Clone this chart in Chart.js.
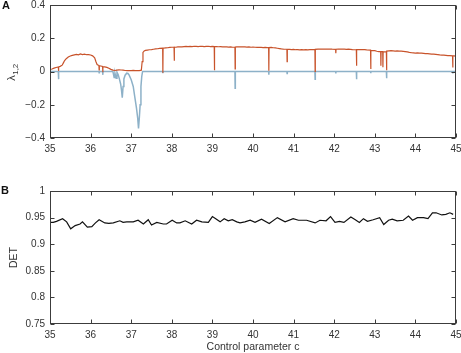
<!DOCTYPE html>
<html>
<head>
<meta charset="utf-8">
<script src="https://cdn.jsdelivr.net/npm/chart.js@4.4.1/dist/chart.umd.min.js"></script>
<style>
  html, body { margin: 0; padding: 0; background: #fff; }
  #wrap { position: relative; width: 461px; height: 353px; }
  canvas { position: absolute; left: 0; }
  #chartA { top: 0; }
  #chartB { top: 170px; }
</style>
</head>
<body>
<div id="wrap">
  <canvas id="chartA" width="461" height="170"></canvas>
  <canvas id="chartB" width="461" height="183"></canvas>
</div>
<script>
// control parameter ticks
const xTicks = [35, 36, 37, 38, 39, 40, 41, 42, 43, 44, 45];
const yTicksA = [-0.4, -0.2, 0, 0.2, 0.4];
const yTicksB = [0.75, 0.8, 0.85, 0.9, 0.95, 1];

// largest Lyapunov exponent lambda1 [c, value]
const lambda1 = [
  [35.00,0.012],[35.05,0.015],[35.10,0.020],[35.15,0.024],[35.205,0.027],[35.21,0.004],[35.215,0.028],
  [35.25,0.031],[35.30,0.038],[35.33,0.052],[35.36,0.066],[35.40,0.077],[35.45,0.087],[35.50,0.093],
  [35.55,0.097],[35.60,0.100],[35.65,0.103],[35.70,0.100],[35.75,0.106],[35.80,0.102],[35.85,0.104],
  [35.90,0.101],[35.95,0.102],[36.00,0.099],[36.05,0.094],[36.10,0.082],[36.13,0.060],[36.16,0.042],
  [36.205,0.036],[36.21,0.010],[36.215,0.035],[36.25,0.033],[36.295,0.030],[36.30,-0.005],[36.305,0.029],
  [36.35,0.028],[36.40,0.025],[36.45,0.020],[36.50,0.013],[36.55,0.008],[36.60,0.006],[36.65,0.008],
  [36.70,0.010],[36.75,0.009],[36.80,0.008],[36.85,0.006],[36.90,0.005],[36.95,0.006],[37.00,0.005],
  [37.05,0.007],[37.10,0.005],[37.15,0.006],[37.20,0.005],[37.25,0.008],[37.27,0.060],[37.29,0.115],
  [37.32,0.124],[37.35,0.127],[37.40,0.129],[37.45,0.131],[37.50,0.132],[37.55,0.134],[37.60,0.136],
  [37.65,0.137],[37.70,0.139],[37.775,0.140],[37.78,-0.008],[37.785,0.140],[37.85,0.142],[37.90,0.143],
  [37.95,0.145],[38.00,0.146],[38.055,0.146],[38.06,0.065],[38.065,0.147],[38.10,0.146],[38.15,0.148],
  [38.20,0.149],[38.25,0.148],[38.30,0.150],[38.35,0.151],[38.40,0.150],[38.45,0.151],[38.50,0.150],
  [38.55,0.152],[38.60,0.151],[38.65,0.150],[38.70,0.152],[38.75,0.151],[38.80,0.150],[38.85,0.151],
  [38.90,0.152],[38.95,0.150],[39.00,0.151],[39.045,0.150],[39.05,0.008],[39.055,0.150],[39.10,0.150],
  [39.15,0.149],[39.20,0.150],[39.25,0.148],[39.30,0.149],[39.35,0.148],[39.40,0.147],[39.45,0.148],
  [39.50,0.146],[39.555,0.147],[39.56,0.015],[39.565,0.147],[39.60,0.148],[39.65,0.149],[39.70,0.148],
  [39.75,0.149],[39.80,0.148],[39.85,0.147],[39.90,0.148],[39.95,0.146],[40.00,0.147],[40.05,0.146],
  [40.10,0.145],[40.15,0.146],[40.20,0.145],[40.25,0.144],[40.30,0.145],[40.385,0.143],[40.39,0.004],
  [40.395,0.144],[40.45,0.145],[40.50,0.143],[40.55,0.142],[40.60,0.140],[40.65,0.138],[40.70,0.136],
  [40.75,0.135],[40.835,0.134],[40.84,0.060],[40.845,0.133],[40.90,0.133],[40.95,0.132],[41.00,0.133],
  [41.05,0.131],[41.10,0.132],[41.15,0.130],[41.20,0.131],[41.25,0.130],[41.30,0.131],[41.35,0.130],
  [41.40,0.132],[41.45,0.131],[41.525,0.132],[41.53,0.000],[41.535,0.133],[41.60,0.135],[41.65,0.134],
  [41.70,0.135],[41.75,0.134],[41.80,0.135],[41.85,0.134],[41.90,0.135],[41.95,0.134],[42.035,0.133],
  [42.04,0.110],[42.045,0.134],[42.10,0.135],[42.15,0.134],[42.20,0.135],[42.25,0.134],[42.30,0.133],
  [42.35,0.134],[42.40,0.133],[42.45,0.132],[42.545,0.131],[42.55,0.035],[42.555,0.132],[42.60,0.132],
  [42.65,0.131],[42.70,0.132],[42.75,0.131],[42.80,0.130],[42.895,0.129],[42.90,0.015],[42.905,0.127],
  [42.95,0.126],[43.00,0.125],[43.05,0.122],[43.10,0.120],[43.145,0.120],[43.15,0.035],[43.155,0.119],
  [43.195,0.119],[43.20,0.025],[43.205,0.118],[43.285,0.118],[43.29,0.008],[43.295,0.123],[43.35,0.124],
  [43.40,0.125],[43.45,0.124],[43.50,0.123],[43.55,0.124],[43.60,0.123],[43.65,0.122],[43.70,0.121],
  [43.75,0.120],[43.80,0.118],[43.85,0.115],[43.90,0.113],[43.95,0.112],[44.00,0.111],[44.05,0.112],
  [44.10,0.111],[44.15,0.110],[44.20,0.109],[44.25,0.108],[44.30,0.107],[44.35,0.106],[44.40,0.105],
  [44.45,0.104],[44.50,0.103],[44.55,0.102],[44.60,0.100],[44.65,0.099],[44.70,0.098],[44.75,0.097],
  [44.80,0.096],[44.85,0.095],[44.915,0.094],[44.92,0.024],[44.925,0.094],[44.95,0.094],[45.00,0.093]
];

// second exponent lambda2 [c, value]
const lambda2 = [
  [35.00,0],[35.205,0],[35.21,-0.046],[35.215,0],[36.205,0],[36.21,-0.008],[36.215,0],[36.295,0],
  [36.30,-0.020],[36.305,0],[36.55,0],[36.58,-0.036],[36.60,-0.010],[36.63,-0.040],[36.65,-0.005],
  [36.68,-0.020],[36.71,-0.046],[36.74,-0.075],[36.76,-0.110],[36.78,-0.157],[36.80,-0.090],
  [36.82,-0.045],[36.85,-0.022],[36.89,-0.010],[36.92,-0.012],[36.95,-0.022],[37.00,-0.050],
  [37.05,-0.090],[37.09,-0.155],[37.13,-0.220],[37.16,-0.280],[37.18,-0.343],[37.20,-0.280],
  [37.22,-0.200],[37.24,-0.090],[37.26,-0.030],[37.28,0],[37.775,0],[37.78,-0.010],[37.785,0],
  [39.555,0],[39.56,-0.100],[39.565,0],[40.385,0],[40.39,-0.020],[40.395,0],[40.835,0],[40.84,-0.012],
  [40.845,0],[41.525,0],[41.53,-0.046],[41.535,0],[42.035,0],[42.04,-0.012],[42.045,0],[42.545,0],
  [42.55,-0.046],[42.555,0],[42.895,0],[42.90,-0.010],[42.905,0],[43.285,0],[43.29,-0.040],
  [43.295,0],[44.915,0],[44.92,-0.012],[44.925,0],[45.00,0]
];

// determinism [c, DET]
const det = [
  [35.00,0.941],[35.08,0.941],[35.16,0.943],[35.31,0.948],[35.41,0.942],[35.51,0.929],[35.62,0.935],
  [35.74,0.938],[35.80,0.942],[35.92,0.932],[36.03,0.933],[36.12,0.940],[36.21,0.946],[36.35,0.940],
  [36.45,0.939],[36.56,0.940],[36.72,0.944],[36.80,0.941],[36.89,0.942],[37.05,0.942],[37.17,0.945],
  [37.30,0.938],[37.42,0.946],[37.50,0.936],[37.63,0.941],[37.79,0.938],[37.87,0.938],[38.01,0.945],
  [38.12,0.940],[38.20,0.940],[38.33,0.944],[38.49,0.938],[38.61,0.945],[38.74,0.942],[38.90,0.941],
  [39.00,0.952],[39.10,0.947],[39.19,0.942],[39.29,0.948],[39.39,0.944],[39.49,0.946],[39.60,0.942],
  [39.68,0.940],[39.80,0.942],[39.93,0.945],[40.05,0.941],[40.21,0.947],[40.40,0.939],[40.60,0.950],
  [40.79,0.942],[40.99,0.948],[41.12,0.945],[41.32,0.945],[41.53,0.940],[41.65,0.945],[41.80,0.944],
  [41.91,0.952],[42.02,0.941],[42.13,0.943],[42.24,0.941],[42.41,0.951],[42.52,0.946],[42.62,0.941],
  [42.72,0.948],[42.82,0.943],[42.96,0.946],[43.12,0.950],[43.22,0.937],[43.34,0.945],[43.43,0.947],
  [43.55,0.944],[43.70,0.945],[43.83,0.953],[43.93,0.945],[44.05,0.950],[44.20,0.950],[44.31,0.948],
  [44.42,0.959],[44.51,0.959],[44.65,0.955],[44.75,0.956],[44.85,0.959],[44.93,0.956]
];

const FONT = "'Liberation Sans', Arial, sans-serif";
Chart.defaults.font.family = FONT;
Chart.defaults.font.size = 10;
Chart.defaults.color = '#333';

const toXY = arr => arr.map(p => ({ x: p[0], y: p[1] }));
const fmt = v => (v < 0 ? '\u2212' + Math.abs(v) : String(v));

// box frame + inward ticks on all four sides, plus panel letters
const frame = {
  id: 'frame',
  afterDraw(chart, args, opts) {
    const { ctx, chartArea: a, scales: { x, y } } = chart;
    const L = Math.round(a.left) + 0.5, R = Math.round(a.right) - 0.5;
    const T = Math.round(a.top) + 0.5, B = Math.round(a.bottom) - 0.5;
    ctx.save();
    ctx.strokeStyle = '#3c3c3c';
    ctx.lineWidth = 1;
    ctx.strokeRect(L, T, R - L, B - T);
    ctx.beginPath();
    x.ticks.forEach(t => {
      const px = Math.round(x.getPixelForValue(t.value)) + 0.5;
      ctx.moveTo(px, B); ctx.lineTo(px, B - 4);
      ctx.moveTo(px, T); ctx.lineTo(px, T + 4);
    });
    y.ticks.forEach(t => {
      const py = Math.round(y.getPixelForValue(t.value)) + 0.5;
      ctx.moveTo(L, py); ctx.lineTo(L + 4, py);
      ctx.moveTo(R, py); ctx.lineTo(R - 4, py);
    });
    ctx.stroke();

    ctx.fillStyle = '#111';
    ctx.font = 'bold 11px ' + FONT;
    ctx.textBaseline = 'alphabetic';
    ctx.fillText(opts.letter, opts.lx, opts.ly);

    if (opts.lambda) {
      // rotated lambda with subscript 1,2
      ctx.fillStyle = '#333';
      ctx.translate(15, 72.5);
      ctx.rotate(-Math.PI / 2);
      ctx.font = '11px ' + FONT;
      const w1 = ctx.measureText('\u03bb').width;
      ctx.font = '8px ' + FONT;
      const w2 = ctx.measureText('1,2').width;
      const s = -(w1 + w2) / 2;
      ctx.font = '11px ' + FONT;
      ctx.fillText('\u03bb', s, 0);
      ctx.font = '8px ' + FONT;
      ctx.fillText('1,2', s + w1 + 0.5, 3);
    }
    ctx.restore();
  }
};

function xScale(height, title) {
  return {
    type: 'linear', min: 35, max: 45,
    grid: { display: false, drawTicks: false },
    border: { display: false },
    ticks: { padding: 5, maxRotation: 0, autoSkip: false, callback: fmt },
    afterBuildTicks: s => { s.ticks = xTicks.map(v => ({ value: v })); },
    afterFit: s => { s.height = height; s.paddingLeft = 0; s.paddingRight = 0; },
    title: title ? { display: true, text: title, font: { size: 10.5 }, padding: { top: 0, bottom: 0 } } : { display: false }
  };
}

function yScale(min, max, ticks, title) {
  return {
    type: 'linear', min: min, max: max,
    grid: { display: false, drawTicks: false },
    border: { display: false },
    ticks: { padding: 5, callback: fmt },
    afterBuildTicks: s => { s.ticks = ticks.map(v => ({ value: v })); },
    afterFit: s => { s.width = 50; s.paddingTop = 0; s.paddingBottom = 0; },
    title: title ? { display: true, text: title, font: { size: 10.5 }, padding: { top: 8, bottom: 0 } } : { display: false }
  };
}

new Chart(document.getElementById('chartA'), {
  type: 'line',
  data: {
    datasets: [
      { label: 'lambda1', data: toXY(lambda1), borderColor: '#c8532b', borderWidth: 1.2 },
      { label: 'lambda2', data: toXY(lambda2), borderColor: '#8db1c8', borderWidth: 1.5 }
    ]
  },
  options: {
    responsive: false, animation: false,
    layout: { padding: { left: 0, right: 5, top: 5, bottom: 0 } },
    elements: { point: { radius: 0 }, line: { tension: 0 } },
    plugins: { legend: { display: false }, tooltip: { enabled: false },
      frame: { letter: 'A', lx: 2, ly: 9, lambda: true } },
    scales: { x: xScale(32), y: yScale(-0.4, 0.4, yTicksA) }
  },
  plugins: [frame]
});

new Chart(document.getElementById('chartB'), {
  type: 'line',
  data: {
    datasets: [
      { label: 'DET', data: toXY(det), borderColor: '#111', borderWidth: 1.2 }
    ]
  },
  options: {
    responsive: false, animation: false,
    layout: { padding: { left: 0, right: 5, top: 21, bottom: 0 } },
    elements: { point: { radius: 0 }, line: { tension: 0 } },
    plugins: { legend: { display: false }, tooltip: { enabled: false },
      frame: { letter: 'B', lx: 1, ly: 24, lambda: false } },
    scales: { x: xScale(29, 'Control parameter c'), y: yScale(0.75, 1, yTicksB, 'DET') }
  },
  plugins: [frame]
});
</script>
</body>
</html>
